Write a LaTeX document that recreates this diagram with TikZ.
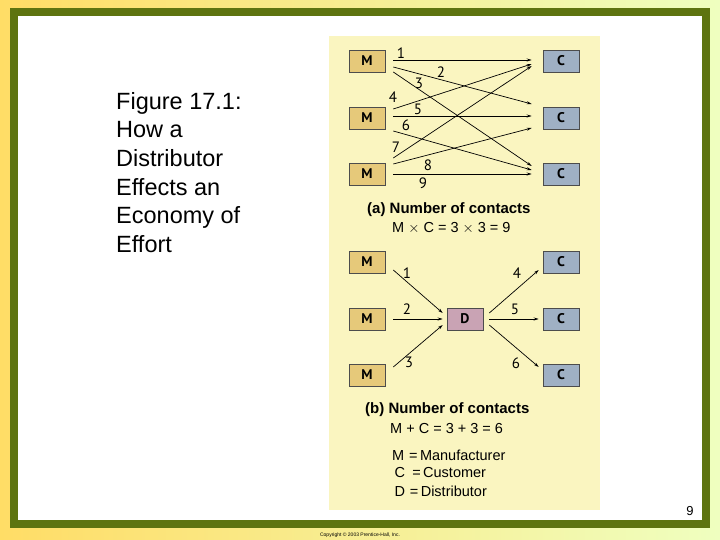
\documentclass[tikz,border=0pt]{standalone}
\usepackage{fontspec}
\setmainfont{Liberation Sans}
\newfontfamily\pan{PT Sans}
\usetikzlibrary{arrows.meta}
\definecolor{olive}{HTML}{5E7410}
\definecolor{panel}{HTML}{FAF5C0}
\definecolor{mbox}{HTML}{E6C97A}
\definecolor{cbox}{HTML}{9FB0C4}
\definecolor{dbox}{HTML}{C9A3B4}
\begin{document}
\begin{tikzpicture}[x=1pt,y=-1pt,
  bx/.style={draw=black!70,line width=0.6pt,minimum width=36pt,minimum height=22pt,inner sep=0pt,font=\pan\bfseries\fontsize{14}{14}\selectfont},
  ar/.style={-{Stealth[length=5pt,width=3pt]},line width=0.7pt},
  lb/.style={font=\pan\fontsize{15}{15}\selectfont,inner sep=0pt},
  tx/.style={font=\bfseries\fontsize{15}{16}\selectfont,anchor=west,inner sep=0pt},
  fx/.style={font=\fontsize{14.5}{16}\selectfont,anchor=west,inner sep=0pt}]
\useasboundingbox (0,0) rectangle (720,540);
\shade[left color=orange!45!yellow!60,right color=green!25!yellow!25] (0,0) rectangle (720,540);
\fill[olive] (10,8) rectangle (710,528);
\fill[white] (18,16) rectangle (702,520);
\fill[panel] (329,36) rectangle (600,510);
\foreach \i/\y in {1/61,2/118,3/174}{
  \node[bx,fill=mbox] (m\i) at (367,\y) {M};
  \node[bx,fill=cbox] (c\i) at (561,\y) {C};}
\foreach \i/\y in {1/262,2/319,3/375}{
  \node[bx,fill=mbox] (bm\i) at (367,\y) {M};
  \node[bx,fill=cbox] (bc\i) at (561,\y) {C};}
\node[bx,fill=dbox] (d) at (465,319) {D};
% top arrows
\draw[ar] ([xshift=8pt,yshift=1pt]m1.east) -- ([xshift=-11pt,yshift=1pt]c1.west);
\draw[ar] ([xshift=8pt,yshift=-6pt]m1.east) -- ([xshift=-11pt,yshift=14pt]c2.west);
\draw[ar] ([xshift=8pt,yshift=-11pt]m1.east) -- ([xshift=-11pt,yshift=8pt]c3.west);
\draw[ar] ([xshift=8pt,yshift=9pt]m2.east) -- ([xshift=-11pt,yshift=-3pt]c1.west);
\draw[ar] ([xshift=8pt,yshift=2pt]m2.east) -- ([xshift=-11pt,yshift=2pt]c2.west);
\draw[ar] ([xshift=8pt,yshift=-13pt]m2.east) -- ([xshift=-11pt,yshift=4pt]c3.west);
\draw[ar] ([xshift=8pt,yshift=16pt]m3.east) -- ([xshift=-11pt,yshift=-5pt]c1.west);
\draw[ar] ([xshift=8pt,yshift=10pt]m3.east) -- ([xshift=-11pt,yshift=-10pt]c2.west);
\draw[ar] ([xshift=8pt,yshift=0pt]m3.east) -- ([xshift=-11pt,yshift=0pt]c3.west);
\foreach \t/\x/\y in {1/401/53,2/441/72,3/419/83,4/393/97,5/418/109,6/406/125,7/396/147,8/428/165,9/423/183}
  \node[lb] (n\t) at (\x,\y) {\t};
% bottom arrows
\draw[ar] ([xshift=8pt,yshift=-8pt]bm1.east) -- ([xshift=-4pt,yshift=6pt]d.west);
\draw[ar] ([xshift=8pt]bm2.east) -- ([xshift=-4pt]d.west);
\draw[ar] ([xshift=8pt,yshift=8pt]bm3.east) -- ([xshift=-4pt,yshift=-6pt]d.west);
\draw[ar] ([xshift=6pt,yshift=6pt]d.east) -- ([xshift=-4pt,yshift=-8pt]bc1.west);
\draw[ar] ([xshift=6pt]d.east) -- ([xshift=-4pt]bc2.west);
\draw[ar] ([xshift=6pt,yshift=-6pt]d.east) -- ([xshift=-4pt,yshift=8pt]bc3.west);
\foreach \t/\x/\y in {1/407/273,2/407/309,3/409/362,4/517/273,5/515/309,6/516/363}
  \node[lb] (b\t) at (\x,\y) {\t};
\node[tx] (ta) at (367,210) {(a) Number of contacts};
\node[fx] (fa) at (392,228) {M $\times$ C = 3 $\times$ 3 = 9};
\node[tx] (tb) at (365,410) {(b) Number of contacts};
\node[fx] (fb) at (390,429) {M + C = 3 + 3 = 6};
\node[fx] (l1) at (392,455) {M\,\,=\,Manufacturer};
\node[fx] (l2) at (392,473) {\,C\,\,\,=\,Customer};
\node[fx] (l3) at (392,491) {\,D\,\,=\,Distributor};
\node[anchor=north west,align=left,font=\fontsize{23.5}{28.6}\selectfont,inner sep=0pt] (title) at (116,92) {Figure 17.1:\\How a\\Distributor\\Effects an\\Economy of\\Effort};
\node[font=\fontsize{13}{13}\selectfont] (pg) at (690,511) {9};
\node[font=\fontsize{5}{5}\selectfont] (cp) at (360,535) {Copyright \copyright\ 2003 Prentice-Hall, Inc.};
\end{tikzpicture}
\end{document}
